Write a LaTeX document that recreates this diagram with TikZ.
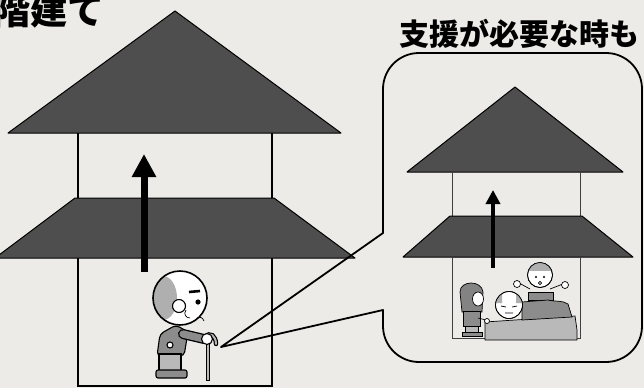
\documentclass[tikz,border=0pt]{standalone}
\usepackage{fontspec}
\newfontfamily\jp{Noto Sans CJK JP}
\usetikzlibrary{arrows.meta,positioning}

\definecolor{paper}{RGB}{236,235,232}
\definecolor{roofgray}{RGB}{78,78,78}
\definecolor{cloth}{RGB}{140,140,140}
\definecolor{lightcloth}{RGB}{185,185,185}
\definecolor{hairgray}{RGB}{175,175,175}

\begin{document}
\begin{tikzpicture}[x=1pt, y=-1pt,
  roofpart/.style={draw=black, line width=1pt, fill=roofgray, line join=round},
  wall/.style={draw=black, line width=1.6pt},
  thinwall/.style={draw=black!75, line width=0.8pt},
  callout/.style={draw=black, line width=1.8pt, line join=round},
  uparrow/.style={line width=7pt, -{Triangle[length=23pt,width=23pt]}},
  smallarrow/.style={line width=4pt, -{Triangle[length=14pt,width=14pt]}},
  outl/.style={draw=black, line width=1.1pt},
  thin/.style={draw=black, line width=0.7pt},
  title/.style={font=\jp\bfseries, inner sep=0pt}]
\useasboundingbox (0,0) rectangle (644,388);
\fill[paper] (0,0) rectangle (644,388);
\clip (0,0) rectangle (644,388);

% headings
\node[title, anchor=base east, font=\jp\bfseries\fontsize{37pt}{37pt}\selectfont]
  (floors) at (105,24) {階建て};
\node[title, anchor=base, font=\jp\bfseries\fontsize{30pt}{30pt}\selectfont]
  (support) at (519,45) {支援が必要な時も};

% big house
\draw[roofpart] (8,133) -- (175,11) -- (341,133) -- cycle;
\draw[wall] (78,133) -- (78,198) (272,133) -- (272,198);
\draw[roofpart] (75,198) -- (274,198) -- (355,258) -- (-5,258) -- cycle;
\draw[wall] (78,258) -- (78,386) -- (272,386) -- (272,258);

\coordinate (bigfoot) at (144,272);
\coordinate (bigtop) at (144,154);
\draw[uparrow] (bigfoot) -- (bigtop);

% old man with a cane
\draw[outl, fill=cloth, rounded corners=4pt] (176,325) -- (160,334) -- (157,356)
  -- (184,356) -- (188,332) -- cycle;
\draw[outl, fill=lightcloth] (159,354) rectangle (181,371);
\draw[outl, fill=cloth, rounded corners=2pt] (156,370) rectangle (187,378);
\draw[line width=10pt, line cap=round] (183,334) -- (204,339);
\draw[line width=7.4pt, line cap=round, cloth] (183,334) -- (204,339);
\draw[outl, fill=white] (170,345) circle (3);
\draw[line width=4.4pt] (208,344) -- (208,381);
\draw[line width=2pt, lightcloth] (208,344) -- (208,380);
\draw[line width=4.4pt, line cap=round] (205,337) .. controls (210,331) and (216,336) .. (216,344);
\draw[line width=2pt, line cap=round, lightcloth] (205,337) .. controls (210,331) and (216,336) .. (216,344);
\draw[outl, fill=white] (207,339) circle (5.5);
\fill[white] (180,298) circle (27);
\begin{scope}
  \clip (180,298) circle (27);
  \fill[hairgray] (163,298) ellipse (14 and 22);
\end{scope}
\draw[line width=1.6pt] (180,298) circle (27);
\draw[outl, fill=white] (179,306) circle (6.5);
\draw[line width=2.6pt] (189,292) -- (200,291);
\fill (198,302) circle (2.6);
\draw[thin] (186,310) .. controls (183,314) and (186,318) .. (190,318);
\draw[thin] (197,318) .. controls (200,316) and (203,318) .. (204,321);
\coordinate (canetip) at (221,347);

% callout
\draw[callout] (canetip) -- (383,233) [rounded corners=36pt] -- (383,53) -- (642,53)
  -- (642,362) -- (383,362) [sharp corners] -- (383,310) -- cycle;

% small house
\draw[roofpart] (407,172) -- (515,87) -- (623,172) -- cycle;
\draw[thinwall] (452,172) -- (452,216) (580,172) -- (580,216);
\draw[roofpart] (450,216) -- (582,216) -- (633,257) -- (403,257) -- cycle;
\draw[thinwall] (452,257) rectangle (580,338);

\coordinate (smallfoot) at (493,268);
\coordinate (smalltop) at (493,190);
\draw[smallarrow] (smallfoot) -- (smalltop);

% young man behind the bed
\draw[thin, fill=cloth] (528,292) rectangle (553,300);
\draw[thin] (530,289) -- (519,283) (550,289) -- (563,284);
\draw[thin, fill=white] (517,284) circle (3.5);
\draw[thin, fill=white] (565,285) circle (3.5);
\draw[thin, fill=white] (540,275) circle (12.5);
\begin{scope}
  \clip (540,275) circle (12.5);
  \fill[hairgray] (526,261) rectangle (554,271);
\end{scope}
\draw[thin] (540,275) circle (12.5);
\fill (536,277) circle (1.1) (544,277) circle (1.1);
\draw[thin] (540,283) circle (1.6);

% bed and patient
\draw[thin, fill=lightcloth] (485,322) -- (575,316) -- (577,330) -- (577,340) -- (485,340) -- cycle;
\draw[thin, fill=cloth] (522,302) -- (548,300) .. controls (556,302) and (562,300) .. (568,304)
  -- (572,317) -- (522,320) -- cycle;
\draw[thin, fill=white] (509,305) circle (13.5);
\begin{scope}
  \clip (509,305) circle (13.5);
  \fill[hairgray] (494,292) rectangle (502,303) (516,292) rectangle (524,303);
\end{scope}
\draw[thin] (509,305) circle (13.5);
\draw[thin] (501,306) -- (506,307) (512,307) -- (517,306) (505,313) -- (513,313);

% woman at the bedside
\draw[thin, fill=roofgray!70] (462,312) -- (460,292) .. controls (460,280) and (482,280) .. (483,292)
  -- (482,312) -- cycle;
\draw[thin, fill=white] (478,299) ellipse (5.5 and 7);
\draw[thin, fill=cloth] (463,311) rectangle (480,326);
\draw[thin] (478,318) -- (486,320);
\draw[thin, fill=white] (487,321) circle (2.5);
\draw[thin, fill=lightcloth] (465,326) rectangle (478,332);
\draw[thin, fill=cloth] (462,332) rectangle (482,336);
\end{tikzpicture}
\end{document}
